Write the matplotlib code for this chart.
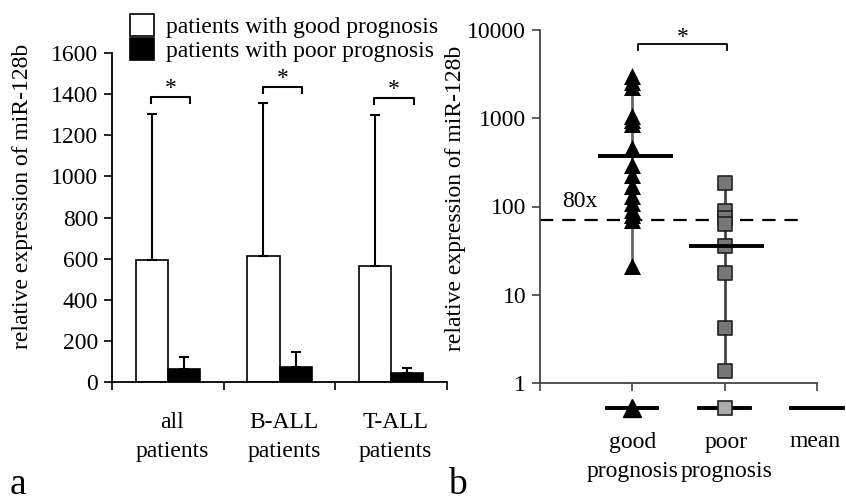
import matplotlib
matplotlib.use("Agg")
import matplotlib.pyplot as plt
import numpy as np

plt.rcParams['font.family'] = ['Liberation Serif', 'DejaVu Serif']

# ---- panel a data ----
groups = ["all\npatients", "B-ALL\npatients", "T-ALL\npatients"]
good_mean = [593, 613, 566]
good_err = [710, 742, 731]
poor_mean = [62, 74, 42]
poor_err = [58, 73, 24]
bracket_a = [1386, 1435, 1381]
yticks_a = [0, 200, 400, 600, 800, 1000, 1200, 1400, 1600]

# ---- panel b data ----
good_vals = [3000, 2600, 2250, 1050, 950, 850, 460, 295, 228, 172, 132, 110, 92, 80, 70, 21]
poor_vals = [185, 88, 75, 64, 36, 17.5, 4.2, 1.35]
good_mean_b = 372
poor_mean_b = 36
threshold = 70
yticks_b = [1, 10, 100, 1000, 10000]
ytick_labels_b = ["1", "10", "100", "1000", "10000"]

W, H = 846, 503
fig = plt.figure(figsize=(W / 100, H / 100), dpi=100)
FS = 17
LS = 1.5

# ================= panel a =================
ax = fig.add_axes([112 / W, (H - 382) / H, 335 / W, 329 / H])
x = np.arange(len(groups))
bw = 0.288
ekw = dict(ecolor="black", elinewidth=1.5, capsize=3.5, capthick=1.5)
ax.bar(x - bw / 2, good_mean, bw, color="white", edgecolor="black", linewidth=1.2,
       yerr=[np.zeros(3), good_err], error_kw=ekw,
       label="patients with good prognosis", zorder=2)
ax.bar(x + bw / 2, poor_mean, bw, color="black", edgecolor="black", linewidth=1.2,
       yerr=[np.zeros(3), poor_err], error_kw=ekw,
       label="patients with poor prognosis", zorder=2)
ax.set_xlim(-0.5, 2.5)
ax.set_ylim(0, 1600)
ax.set_yticks(yticks_a)
ax.set_xticks([-0.5, 0.5, 1.5, 2.5])
ax.set_xticklabels([])
ax.tick_params(axis="both", direction="out", length=6, width=1.2, labelsize=FS, pad=4)
for s in ["top", "right"]:
    ax.spines[s].set_visible(False)
for s in ["left", "bottom"]:
    ax.spines[s].set_linewidth(1.3)
ax.set_ylabel("relative expression of miR-128b", fontsize=FS)
ax.yaxis.set_label_coords((33 - 112) / 335, (382 - 196) / 329)
for i, g in enumerate(groups):
    ax.text(x[i] + 0.04, -0.167, g, transform=ax.get_xaxis_transform(), ha="center", va="center",
            fontsize=FS, linespacing=LS)
# significance brackets
for i, b in enumerate(bracket_a):
    x0, x1 = x[i] - 0.15, x[i] + 0.2
    ax.plot([x0, x0, x1, x1], [b - 30, b, b, b - 30], color="black", lw=1.5, clip_on=False)
    ax.text((x0 + x1) / 2, b - 12, "*", ha="center", va="bottom", fontsize=FS)
leg = ax.legend(loc="upper left", bbox_to_anchor=(0.054, 1.118), frameon=False, fontsize=FS,
                handlelength=1.0, handleheight=1.05, handletextpad=0.5, labelspacing=0.0,
                borderaxespad=0, borderpad=0)
fig.text(10 / W, 1 - 494 / H, "a", fontsize=27, ha="left", va="baseline")

# ================= panel b =================
bx = fig.add_axes([540 / W, (H - 383) / H, 277 / W, 353 / H])
bx.set_yscale("log")
bx.set_ylim(1, 10000)
bx.set_xlim(0, 3)
bx.set_yticks(yticks_b)
bx.set_yticklabels(ytick_labels_b)
bx.yaxis.set_minor_locator(matplotlib.ticker.NullLocator())
bx.set_xticks([0, 1, 2, 3])
bx.set_xticklabels([])
bx.tick_params(axis="both", direction="out", length=6, width=1.2, labelsize=FS, pad=4, color="#444")
for s in ["top", "right"]:
    bx.spines[s].set_visible(False)
for s in ["left", "bottom"]:
    bx.spines[s].set_linewidth(1.3)
    bx.spines[s].set_color("#444")
bx.set_ylabel("relative expression of miR-128b", fontsize=FS)
bx.yaxis.set_label_coords((466 - 540) / 277, (383 - 198) / 353)

# vertical range lines
bx.plot([1, 1], [min(good_vals), max(good_vals)], color="#666", lw=2, zorder=1)
bx.plot([2, 2], [min(poor_vals), max(poor_vals)], color="#444", lw=2, zorder=1)
bx.scatter(np.full(len(good_vals), 1.0), good_vals, marker="^", s=150, color="black", zorder=3, linewidths=0)
bx.scatter(np.full(len(poor_vals), 2.0), poor_vals, marker="s", s=110, facecolor="#777777",
           edgecolor="#222", linewidths=1.2, zorder=3)
# means
bx.plot([0.65, 1.42], [good_mean_b, good_mean_b], color="black", lw=2.8, zorder=4)
bx.plot([1.63, 2.4], [poor_mean_b, poor_mean_b], color="black", lw=2.8, zorder=4)
# threshold
bx.plot([0, 2.85], [threshold, threshold], color="black", lw=1.6, ls=(0, (6, 4)), zorder=2)
bx.text(0.24, 115, "80x", fontsize=FS, ha="left", va="center")
# significance bracket
b0, b1, by = 1.06, 2.03, 7000
bx.plot([b0, b0, b1, b1], [by * 0.84, by, by, by * 0.84], color="black", lw=1.3, clip_on=False)
bx.text((b0 + b1) / 2, by * 0.9, "*", ha="center", va="bottom", fontsize=FS)

# custom legend below
tr = bx.get_xaxis_transform()
ly = -0.071
bx.plot([0.73, 1.27], [ly, ly], transform=tr, color="black", lw=2.8, clip_on=False)
bx.plot([1], [ly], transform=tr, marker="^", ms=13, color="black", clip_on=False, ls="none")
bx.plot([1.72, 2.27], [ly, ly], transform=tr, color="black", lw=2.8, clip_on=False)
bx.plot([2], [ly], transform=tr, marker="s", ms=10, mfc="#aaaaaa", mec="#222", mew=1.2, clip_on=False, ls="none")
bx.plot([2.72, 3.28], [ly, ly], transform=tr, color="black", lw=2.8, clip_on=False)
bx.text(1, -0.21, "good\nprognosis", transform=tr, ha="center", va="center", fontsize=FS, linespacing=LS)
bx.text(2.02, -0.21, "poor\nprognosis", transform=tr, ha="center", va="center", fontsize=FS, linespacing=LS)
bx.text(2.98, -0.167, "mean", transform=tr, ha="center", va="center", fontsize=FS)
fig.text(448 / W, 1 - 494 / H, "b", fontsize=27, ha="left", va="baseline")

fig.savefig("out.png", dpi=100)
